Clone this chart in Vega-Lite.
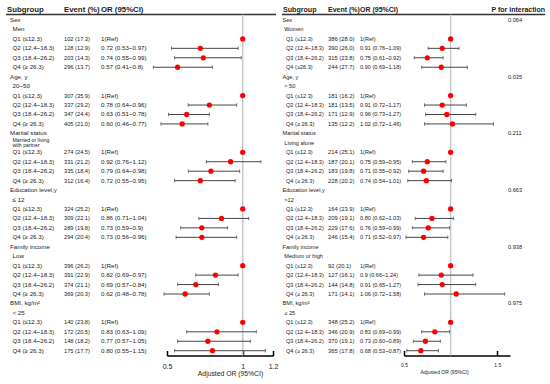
{
  "$schema": "https://vega.github.io/schema/vega-lite/v6.json",
  "background": "white",
  "padding": 5,
  "spacing": 3,
  "config": {"view": {"stroke": null}, "font": "Liberation Sans", "axis": {"grid": false}},
  "datasets": {
    "left": [
      {"row": 0, "kind": "group", "label": "Sex"},
      {"row": 1, "kind": "sub", "label": "Men"},
      {"row": 2, "kind": "q", "label": "Q1 (≤12.3)", "event": "102 (17.3)", "or": "1(Ref)", "est": 1},
      {"row": 3, "kind": "q", "label": "Q2 (12.4~18.3)", "event": "128 (12.9)", "or": "0.72 (0.53~0.97)", "est": 0.72, "lo": 0.53, "hi": 0.97},
      {"row": 4, "kind": "q", "label": "Q3 (18.4~26.2)", "event": "203 (14.3)", "or": "0.74 (0.55~0.99)", "est": 0.74, "lo": 0.55, "hi": 0.99},
      {"row": 5, "kind": "q", "label": "Q4 (≥ 26.3)", "event": "296 (13.7)", "or": "0.57 (0.41~0.8)", "est": 0.57, "lo": 0.41, "hi": 0.8},
      {"row": 6, "kind": "group", "label": "Age, y"},
      {"row": 7, "kind": "sub", "label": "20~50"},
      {"row": 8, "kind": "q", "label": "Q1 (≤12.3)", "event": "307 (35.9)", "or": "1(Ref)", "est": 1},
      {"row": 9, "kind": "q", "label": "Q2 (12.4~18.3)", "event": "337 (29.2)", "or": "0.78 (0.64~0.96)", "est": 0.78, "lo": 0.64, "hi": 0.96},
      {"row": 10, "kind": "q", "label": "Q3 (18.4~26.2)", "event": "347 (24.4)", "or": "0.63 (0.51~0.78)", "est": 0.63, "lo": 0.51, "hi": 0.78},
      {"row": 11, "kind": "q", "label": "Q4 (≥ 26.3)", "event": "405 (21.0)", "or": "0.60 (0.46~0.77)", "est": 0.6, "lo": 0.46, "hi": 0.77},
      {"row": 12, "kind": "group", "label": "Marital status"},
      {"row": 13, "kind": "sub2", "label": "Married or living\nwith partner"},
      {"row": 14, "kind": "q", "label": "Q1 (≤12.3)", "event": "274 (24.5)", "or": "1(Ref)", "est": 1},
      {"row": 15, "kind": "q", "label": "Q2 (12.4~18.3)", "event": "331 (21.2)", "or": "0.92 (0.76~1.12)", "est": 0.92, "lo": 0.76, "hi": 1.12},
      {"row": 16, "kind": "q", "label": "Q3 (18.4~26.2)", "event": "335 (18.4)", "or": "0.79 (0.64~0.98)", "est": 0.79, "lo": 0.64, "hi": 0.98},
      {"row": 17, "kind": "q", "label": "Q4 (≥ 26.3)", "event": "312 (16.4)", "or": "0.72 (0.55~0.95)", "est": 0.72, "lo": 0.55, "hi": 0.95},
      {"row": 18, "kind": "group", "label": "Education level,y"},
      {"row": 19, "kind": "sub", "label": "≤ 12"},
      {"row": 20, "kind": "q", "label": "Q1 (≤12.3)", "event": "324 (25.2)", "or": "1(Ref)", "est": 1},
      {"row": 21, "kind": "q", "label": "Q2 (12.4~18.3)", "event": "309 (22.1)", "or": "0.86 (0.71~1.04)", "est": 0.86, "lo": 0.71, "hi": 1.04},
      {"row": 22, "kind": "q", "label": "Q3 (18.4~26.2)", "event": "289 (19.8)", "or": "0.73 (0.59~0.9)", "est": 0.73, "lo": 0.59, "hi": 0.9},
      {"row": 23, "kind": "q", "label": "Q4 (≥ 26.3)", "event": "294 (20.4)", "or": "0.73 (0.56~0.96)", "est": 0.73, "lo": 0.56, "hi": 0.96},
      {"row": 24, "kind": "group", "label": "Family income"},
      {"row": 25, "kind": "sub", "label": "Low"},
      {"row": 26, "kind": "q", "label": "Q1 (≤12.3)", "event": "396 (26.2)", "or": "1(Ref)", "est": 1},
      {"row": 27, "kind": "q", "label": "Q2 (12.4~18.3)", "event": "391 (22.9)", "or": "0.82 (0.69~0.97)", "est": 0.82, "lo": 0.69, "hi": 0.97},
      {"row": 28, "kind": "q", "label": "Q3 (18.4~26.2)", "event": "374 (21.1)", "or": "0.69 (0.57~0.84)", "est": 0.69, "lo": 0.57, "hi": 0.84},
      {"row": 29, "kind": "q", "label": "Q4 (≥ 26.3)", "event": "369 (20.3)", "or": "0.62 (0.48~0.78)", "est": 0.62, "lo": 0.48, "hi": 0.78},
      {"row": 30, "kind": "group", "label": "BMI, kg/m²"},
      {"row": 31, "kind": "sub", "label": "< 25"},
      {"row": 32, "kind": "q", "label": "Q1 (≤12.3)", "event": "140 (23.8)", "or": "1(Ref)", "est": 1},
      {"row": 33, "kind": "q", "label": "Q2 (12.4~18.3)", "event": "172 (20.5)", "or": "0.83 (0.63~1.09)", "est": 0.83, "lo": 0.63, "hi": 1.09},
      {"row": 34, "kind": "q", "label": "Q3 (18.4~26.2)", "event": "148 (18.2)", "or": "0.77 (0.57~1.05)", "est": 0.77, "lo": 0.57, "hi": 1.05},
      {"row": 35, "kind": "q", "label": "Q4 (≥ 26.3)", "event": "175 (17.7)", "or": "0.80 (0.55~1.15)", "est": 0.8, "lo": 0.55, "hi": 1.15}
    ],
    "right": [
      {"row": 0, "kind": "group", "label": "Sex", "p": "0.064"},
      {"row": 1, "kind": "sub", "label": "Women"},
      {"row": 2, "kind": "q", "label": "Q1 (≤12.3)", "event": "386 (28.0)", "or": "1(Ref)", "est": 1},
      {"row": 3, "kind": "q", "label": "Q2 (12.4~18.3)", "event": "390 (26.0)", "or": "0.91 (0.76~1.09)", "est": 0.91, "lo": 0.76, "hi": 1.09},
      {"row": 4, "kind": "q", "label": "Q3 (18.4~26.2)", "event": "315 (23.8)", "or": "0.75 (0.61~0.92)", "est": 0.75, "lo": 0.61, "hi": 0.92},
      {"row": 5, "kind": "q", "label": "Q4 (≥26.3)", "event": "244 (27.7)", "or": "0.90 (0.69~1.18)", "est": 0.9, "lo": 0.69, "hi": 1.18},
      {"row": 6, "kind": "group", "label": "Age, y", "p": "0.035"},
      {"row": 7, "kind": "sub", "label": "> 50"},
      {"row": 8, "kind": "q", "label": "Q1 (≤12.3)", "event": "181 (16.2)", "or": "1(Ref)", "est": 1},
      {"row": 9, "kind": "q", "label": "Q2 (12.4~18.3)", "event": "181 (13.5)", "or": "0.91 (0.72~1.17)", "est": 0.91, "lo": 0.72, "hi": 1.17},
      {"row": 10, "kind": "q", "label": "Q3 (18.4~26.2)", "event": "171 (12.9)", "or": "0.96 (0.73~1.27)", "est": 0.96, "lo": 0.73, "hi": 1.27},
      {"row": 11, "kind": "q", "label": "Q4 (≥ 26.3)", "event": "135 (12.2)", "or": "1.02 (0.72~1.46)", "est": 1.02, "lo": 0.72, "hi": 1.46},
      {"row": 12, "kind": "group", "label": "Marital status", "p": "0.211"},
      {"row": 13, "kind": "sub", "label": "Living alone"},
      {"row": 14, "kind": "q", "label": "Q1 (≤12.3)", "event": "214 (25.1)", "or": "1(Ref)", "est": 1},
      {"row": 15, "kind": "q", "label": "Q2 (12.4~18.3)", "event": "187 (20.1)", "or": "0.75 (0.59~0.95)", "est": 0.75, "lo": 0.59, "hi": 0.95},
      {"row": 16, "kind": "q", "label": "Q3 (18.4~26.2)", "event": "183 (19.8)", "or": "0.71 (0.55~0.92)", "est": 0.71, "lo": 0.55, "hi": 0.92},
      {"row": 17, "kind": "q", "label": "Q4 (≥ 26.3)", "event": "228 (20.2)", "or": "0.74 (0.54~1.01)", "est": 0.74, "lo": 0.54, "hi": 1.01},
      {"row": 18, "kind": "group", "label": "Education level,y", "p": "0.663"},
      {"row": 19, "kind": "sub", "label": ">12"},
      {"row": 20, "kind": "q", "label": "Q1 (≤12.3)", "event": "164 (23.9)", "or": "1(Ref)", "est": 1},
      {"row": 21, "kind": "q", "label": "Q2 (12.4~18.3)", "event": "209 (19.1)", "or": "0.80 (0.62~1.03)", "est": 0.8, "lo": 0.62, "hi": 1.03},
      {"row": 22, "kind": "q", "label": "Q3 (18.4~26.2)", "event": "229 (17.6)", "or": "0.76 (0.59~0.99)", "est": 0.76, "lo": 0.59, "hi": 0.99},
      {"row": 23, "kind": "q", "label": "Q4 (≥ 26.3)", "event": "246 (15.4)", "or": "0.71 (0.52~0.97)", "est": 0.71, "lo": 0.52, "hi": 0.97},
      {"row": 24, "kind": "group", "label": "Family income", "p": "0.938"},
      {"row": 25, "kind": "sub", "label": "Medium or high"},
      {"row": 26, "kind": "q", "label": "Q1 (≤12.3)", "event": "92 (20.1)", "or": "1(Ref)", "est": 1},
      {"row": 27, "kind": "q", "label": "Q2 (12.4~18.3)", "event": "127 (16.1)", "or": "0.9 (0.66~1.24)", "est": 0.9, "lo": 0.66, "hi": 1.24},
      {"row": 28, "kind": "q", "label": "Q3 (18.4~26.2)", "event": "144 (14.8)", "or": "0.91 (0.65~1.27)", "est": 0.91, "lo": 0.65, "hi": 1.27},
      {"row": 29, "kind": "q", "label": "Q4 (≥ 26.3)", "event": "171 (14.1)", "or": "1.06 (0.72~1.58)", "est": 1.06, "lo": 0.72, "hi": 1.58},
      {"row": 30, "kind": "group", "label": "BMI, kg/m²", "p": "0.975"},
      {"row": 31, "kind": "sub", "label": "≥ 25"},
      {"row": 32, "kind": "q", "label": "Q1 (≤12.3)", "event": "348 (25.2)", "or": "1(Ref)", "est": 1},
      {"row": 33, "kind": "q", "label": "Q2 (12.4~18.3)", "event": "346 (20.9)", "or": "0.83 (0.69~0.99)", "est": 0.83, "lo": 0.69, "hi": 0.99},
      {"row": 34, "kind": "q", "label": "Q3 (18.4~26.2)", "event": "370 (19.1)", "or": "0.73 (0.60~0.89)", "est": 0.73, "lo": 0.6, "hi": 0.89},
      {"row": 35, "kind": "q", "label": "Q4 (≥ 26.3)", "event": "365 (17.8)", "or": "0.68 (0.53~0.87)", "est": 0.68, "lo": 0.53, "hi": 0.87}
    ]
  },
  "hconcat": [
    {
      "spacing": 0,
      "bounds": "flush",
      "hconcat": [
        {
          "width": 58, "height": 350.5,
          "layer": [
            {"data": {"values": [{}]}, "mark": {"type": "text", "text": "Subgroup", "align": "left", "baseline": "middle", "fontWeight": "bold", "fontSize": 7.8, "dx": 1, "color": "#222"},
             "encoding": {"x": {"datum": 0, "type": "quantitative", "scale": {"domain": [0, 1]}, "axis": null}, "y": {"datum": -1.06, "type": "quantitative", "scale": {"domain": [-1.587, 35.507], "reverse": true, "nice": false, "zero": false}, "axis": null}}},
            {"data": {"values": [{}]}, "mark": {"type": "rule", "color": "#333", "strokeWidth": 1.5},
             "encoding": {"x": {"datum": 0, "type": "quantitative"}, "x2": {"datum": 1}, "y": {"datum": -0.58, "type": "quantitative"}}},
            {"data": {"name": "left"}, "transform": [{"filter": "datum.kind == 'group'"}], "mark": {"type": "text", "align": "left", "baseline": "middle", "fontSize": 6.2, "dx": 4, "color": "#222"},
             "encoding": {"x": {"datum": 0, "type": "quantitative"}, "y": {"field": "row", "type": "quantitative"}, "text": {"field": "label"}}},
            {"data": {"name": "left"}, "transform": [{"filter": "datum.kind == 'sub' || datum.kind == 'q'"}], "mark": {"type": "text", "align": "left", "baseline": "middle", "fontSize": 6.2, "dx": 6.5, "color": "#222"},
             "encoding": {"x": {"datum": 0, "type": "quantitative"}, "y": {"field": "row", "type": "quantitative"}, "text": {"field": "label"}}},
            {"data": {"name": "left"}, "transform": [{"filter": "datum.kind == 'sub2'"}], "mark": {"type": "text", "align": "left", "baseline": "middle", "fontSize": 5.2, "dx": 6.5, "dy": -3, "color": "#222", "lineBreak": "\n", "lineHeight": 4.8},
             "encoding": {"x": {"datum": 0, "type": "quantitative"}, "y": {"field": "row", "type": "quantitative"}, "text": {"field": "label"}}}
          ]
        },
        {
          "width": 37, "height": 350.5,
          "layer": [
            {"data": {"values": [{}]}, "mark": {"type": "text", "text": "Event (%)", "align": "left", "baseline": "middle", "fontWeight": "bold", "fontSize": 7.8, "color": "#222"},
             "encoding": {"x": {"datum": 0, "type": "quantitative", "scale": {"domain": [0, 1]}, "axis": null}, "y": {"datum": -1.06, "type": "quantitative", "scale": {"domain": [-1.587, 35.507], "reverse": true, "nice": false, "zero": false}, "axis": null}}},
            {"data": {"values": [{}]}, "mark": {"type": "rule", "color": "#333", "strokeWidth": 1.5},
             "encoding": {"x": {"datum": 0, "type": "quantitative"}, "x2": {"datum": 1}, "y": {"datum": -0.58, "type": "quantitative"}}},
            {"data": {"name": "left"}, "transform": [{"filter": "datum.kind == 'q'"}], "mark": {"type": "text", "align": "left", "baseline": "middle", "fontSize": 5.7, "color": "#222"},
             "encoding": {"x": {"datum": 0, "type": "quantitative"}, "y": {"field": "row", "type": "quantitative"}, "text": {"field": "event"}}}
          ]
        },
        {
          "width": 66, "height": 350.5,
          "layer": [
            {"data": {"values": [{}]}, "mark": {"type": "text", "text": "OR (95%CI)", "align": "left", "baseline": "middle", "fontWeight": "bold", "fontSize": 7.8, "color": "#222"},
             "encoding": {"x": {"datum": 0, "type": "quantitative", "scale": {"domain": [0, 1]}, "axis": null}, "y": {"datum": -1.06, "type": "quantitative", "scale": {"domain": [-1.587, 35.507], "reverse": true, "nice": false, "zero": false}, "axis": null}}},
            {"data": {"values": [{}]}, "mark": {"type": "rule", "color": "#333", "strokeWidth": 1.5},
             "encoding": {"x": {"datum": 0, "type": "quantitative"}, "x2": {"datum": 1}, "y": {"datum": -0.58, "type": "quantitative"}}},
            {"data": {"name": "left"}, "transform": [{"filter": "datum.kind == 'q'"}], "mark": {"type": "text", "align": "left", "baseline": "middle", "fontSize": 6.2, "color": "#222"},
             "encoding": {"x": {"datum": 0, "type": "quantitative"}, "y": {"field": "row", "type": "quantitative"}, "text": {"field": "or"}}}
          ]
        },
        {
          "width": 106, "height": 350.5,
          "layer": [
            {"data": {"values": [{}]}, "mark": {"type": "rule", "color": "#333", "strokeWidth": 1.5},
             "encoding": {"x": {"datum": 0.5, "type": "quantitative", "scale": {"domain": [0.5, 1.2], "nice": false, "zero": false},
                "axis": {"values": [0.5, 1, 1.2], "format": ".1~f", "title": "Adjusted OR (95%CI)", "domainColor": "#000", "domainWidth": 1.5, "tickColor": "#000", "tickWidth": 1.5, "tickSize": -5, "labelPadding": 12, "labelFontSize": 7, "labelColor": "#222", "labelFlush": false, "labelOverlap": false, "titleFontSize": 6.8, "titleFontWeight": "normal", "titleColor": "#222", "titlePadding": 1, "titleX": 63, "titleAlign": "center"}},
              "x2": {"datum": 1.22}, "y": {"datum": -0.58, "type": "quantitative", "scale": {"domain": [-1.587, 35.507], "reverse": true, "nice": false, "zero": false}, "axis": null}}},
            {"data": {"values": [{}]}, "mark": {"type": "rule", "color": "#c8c8c8", "strokeWidth": 1.5},
             "encoding": {"x": {"datum": 1, "type": "quantitative"}, "y": {"datum": -0.58, "type": "quantitative"}, "y2": {"datum": 35.507}}},
            {"data": {"name": "left"}, "transform": [{"filter": "isValid(datum.lo)"}], "mark": {"type": "rule", "color": "#444", "strokeWidth": 1},
             "encoding": {"x": {"field": "lo", "type": "quantitative"}, "x2": {"field": "hi"}, "y": {"field": "row", "type": "quantitative"}}},
            {"data": {"name": "left"}, "transform": [{"filter": "isValid(datum.lo)"}], "mark": {"type": "tick", "orient": "vertical", "color": "#444", "size": 3.5, "thickness": 1},
             "encoding": {"x": {"field": "lo", "type": "quantitative"}, "y": {"field": "row", "type": "quantitative"}}},
            {"data": {"name": "left"}, "transform": [{"filter": "isValid(datum.hi)"}], "mark": {"type": "tick", "orient": "vertical", "color": "#444", "size": 3.5, "thickness": 1},
             "encoding": {"x": {"field": "hi", "type": "quantitative"}, "y": {"field": "row", "type": "quantitative"}}},
            {"data": {"name": "left"}, "transform": [{"filter": "isValid(datum.est)"}], "mark": {"type": "point", "shape": "circle", "filled": true, "color": "#ff0000", "opacity": 1, "size": 28},
             "encoding": {"x": {"field": "est", "type": "quantitative"}, "y": {"field": "row", "type": "quantitative"}}}
          ]
        }
      ]
    },
    {
      "spacing": 0,
      "bounds": "flush",
      "hconcat": [
        {
          "width": 46, "height": 350.5,
          "layer": [
            {"data": {"values": [{}]}, "mark": {"type": "text", "text": "Subgroup", "align": "left", "baseline": "middle", "fontWeight": "bold", "fontSize": 7.1, "dx": 1, "color": "#222"},
             "encoding": {"x": {"datum": 0, "type": "quantitative", "scale": {"domain": [0, 1]}, "axis": null}, "y": {"datum": -1.06, "type": "quantitative", "scale": {"domain": [-1.587, 35.507], "reverse": true, "nice": false, "zero": false}, "axis": null}}},
            {"data": {"values": [{}]}, "mark": {"type": "rule", "color": "#333", "strokeWidth": 1.5},
             "encoding": {"x": {"datum": 0, "type": "quantitative"}, "x2": {"datum": 1}, "y": {"datum": -0.58, "type": "quantitative"}}},
            {"data": {"name": "right"}, "transform": [{"filter": "datum.kind == 'group'"}], "mark": {"type": "text", "align": "left", "baseline": "middle", "fontSize": 5.6, "dx": 0.5, "color": "#222"},
             "encoding": {"x": {"datum": 0, "type": "quantitative"}, "y": {"field": "row", "type": "quantitative"}, "text": {"field": "label"}}},
            {"data": {"name": "right"}, "transform": [{"filter": "datum.kind == 'sub'"}], "mark": {"type": "text", "align": "left", "baseline": "middle", "fontSize": 5.6, "dx": 2.3, "color": "#222"},
             "encoding": {"x": {"datum": 0, "type": "quantitative"}, "y": {"field": "row", "type": "quantitative"}, "text": {"field": "label"}}},
            {"data": {"name": "right"}, "transform": [{"filter": "datum.kind == 'q'"}], "mark": {"type": "text", "align": "left", "baseline": "middle", "fontSize": 5.6, "dx": 4, "color": "#222"},
             "encoding": {"x": {"datum": 0, "type": "quantitative"}, "y": {"field": "row", "type": "quantitative"}, "text": {"field": "label"}}}
          ]
        },
        {
          "width": 32, "height": 350.5,
          "layer": [
            {"data": {"values": [{}]}, "mark": {"type": "text", "text": "Event (%)", "align": "left", "baseline": "middle", "fontWeight": "bold", "fontSize": 7, "color": "#222"},
             "encoding": {"x": {"datum": 0, "type": "quantitative", "scale": {"domain": [0, 1]}, "axis": null}, "y": {"datum": -1.06, "type": "quantitative", "scale": {"domain": [-1.587, 35.507], "reverse": true, "nice": false, "zero": false}, "axis": null}}},
            {"data": {"values": [{}]}, "mark": {"type": "rule", "color": "#333", "strokeWidth": 1.5},
             "encoding": {"x": {"datum": 0, "type": "quantitative"}, "x2": {"datum": 1}, "y": {"datum": -0.58, "type": "quantitative"}}},
            {"data": {"name": "right"}, "transform": [{"filter": "datum.kind == 'q'"}], "mark": {"type": "text", "align": "left", "baseline": "middle", "fontSize": 5.8, "color": "#222"},
             "encoding": {"x": {"datum": 0, "type": "quantitative"}, "y": {"field": "row", "type": "quantitative"}, "text": {"field": "event"}}}
          ]
        },
        {
          "width": 44, "height": 350.5,
          "layer": [
            {"data": {"values": [{}]}, "mark": {"type": "text", "text": "OR (95%CI)", "align": "left", "baseline": "middle", "fontWeight": "bold", "fontSize": 7, "color": "#222"},
             "encoding": {"x": {"datum": 0, "type": "quantitative", "scale": {"domain": [0, 1]}, "axis": null}, "y": {"datum": -1.06, "type": "quantitative", "scale": {"domain": [-1.587, 35.507], "reverse": true, "nice": false, "zero": false}, "axis": null}}},
            {"data": {"values": [{}]}, "mark": {"type": "rule", "color": "#333", "strokeWidth": 1.5},
             "encoding": {"x": {"datum": 0, "type": "quantitative"}, "x2": {"datum": 1}, "y": {"datum": -0.58, "type": "quantitative"}}},
            {"data": {"name": "right"}, "transform": [{"filter": "datum.kind == 'q'"}], "mark": {"type": "text", "align": "left", "baseline": "middle", "fontSize": 5.6, "color": "#222"},
             "encoding": {"x": {"datum": 0, "type": "quantitative"}, "y": {"field": "row", "type": "quantitative"}, "text": {"field": "or"}}}
          ]
        },
        {
          "width": 106, "height": 350.5,
          "layer": [
            {"data": {"values": [{}]}, "mark": {"type": "rule", "color": "#333", "strokeWidth": 1.5},
             "encoding": {"x": {"datum": 0.5, "type": "quantitative", "scale": {"domain": [0.5, 1.637], "nice": false, "zero": false},
                "axis": {"values": [0.5, 1, 1.2, 1.5], "format": ".1~f", "title": "Adjusted OR (95%CI)", "domainColor": "#000", "domainWidth": 1.5, "tickColor": "#000", "tickWidth": 1.5, "tickSize": -5, "labelPadding": 12, "labelFontSize": 5, "labelColor": "#222", "labelFlush": false, "labelOverlap": false, "titleFontSize": 5, "titleFontWeight": "normal", "titleColor": "#222", "titlePadding": 2, "titleX": 40, "titleAlign": "center"}},
              "x2": {"datum": 1.637}, "y": {"datum": -0.58, "type": "quantitative", "scale": {"domain": [-1.587, 35.507], "reverse": true, "nice": false, "zero": false}, "axis": null}}},
            {"data": {"values": [{}]}, "mark": {"type": "rule", "color": "#c8c8c8", "strokeWidth": 1.5},
             "encoding": {"x": {"datum": 1, "type": "quantitative"}, "y": {"datum": -0.58, "type": "quantitative"}, "y2": {"datum": 35.507}}},
            {"data": {"name": "right"}, "transform": [{"filter": "isValid(datum.lo)"}], "mark": {"type": "rule", "color": "#444", "strokeWidth": 1},
             "encoding": {"x": {"field": "lo", "type": "quantitative"}, "x2": {"field": "hi"}, "y": {"field": "row", "type": "quantitative"}}},
            {"data": {"name": "right"}, "transform": [{"filter": "isValid(datum.lo)"}], "mark": {"type": "tick", "orient": "vertical", "color": "#444", "size": 3.5, "thickness": 1},
             "encoding": {"x": {"field": "lo", "type": "quantitative"}, "y": {"field": "row", "type": "quantitative"}}},
            {"data": {"name": "right"}, "transform": [{"filter": "isValid(datum.hi)"}], "mark": {"type": "tick", "orient": "vertical", "color": "#444", "size": 3.5, "thickness": 1},
             "encoding": {"x": {"field": "hi", "type": "quantitative"}, "y": {"field": "row", "type": "quantitative"}}},
            {"data": {"name": "right"}, "transform": [{"filter": "isValid(datum.est)"}], "mark": {"type": "point", "shape": "circle", "filled": true, "color": "#ff0000", "opacity": 1, "size": 28},
             "encoding": {"x": {"field": "est", "type": "quantitative"}, "y": {"field": "row", "type": "quantitative"}}}
          ]
        },
        {
          "width": 37, "height": 350.5,
          "layer": [
            {"data": {"values": [{}]}, "mark": {"type": "text", "text": "P for interaction", "align": "right", "baseline": "middle", "fontWeight": "bold", "fontSize": 7, "dx": -2, "color": "#222"},
             "encoding": {"x": {"datum": 1, "type": "quantitative", "scale": {"domain": [0, 1]}, "axis": null}, "y": {"datum": -1.06, "type": "quantitative", "scale": {"domain": [-1.587, 35.507], "reverse": true, "nice": false, "zero": false}, "axis": null}}},
            {"data": {"values": [{}]}, "mark": {"type": "rule", "color": "#333", "strokeWidth": 1.5},
             "encoding": {"x": {"datum": 0, "type": "quantitative"}, "x2": {"datum": 0.95}, "y": {"datum": -0.58, "type": "quantitative"}}},
            {"data": {"name": "right"}, "transform": [{"filter": "isValid(datum.p)"}], "mark": {"type": "text", "align": "left", "baseline": "middle", "fontSize": 5.6, "dx": -2, "color": "#222"},
             "encoding": {"x": {"datum": 0, "type": "quantitative"}, "y": {"field": "row", "type": "quantitative"}, "text": {"field": "p"}}}
          ]
        }
      ]
    }
  ]
}
